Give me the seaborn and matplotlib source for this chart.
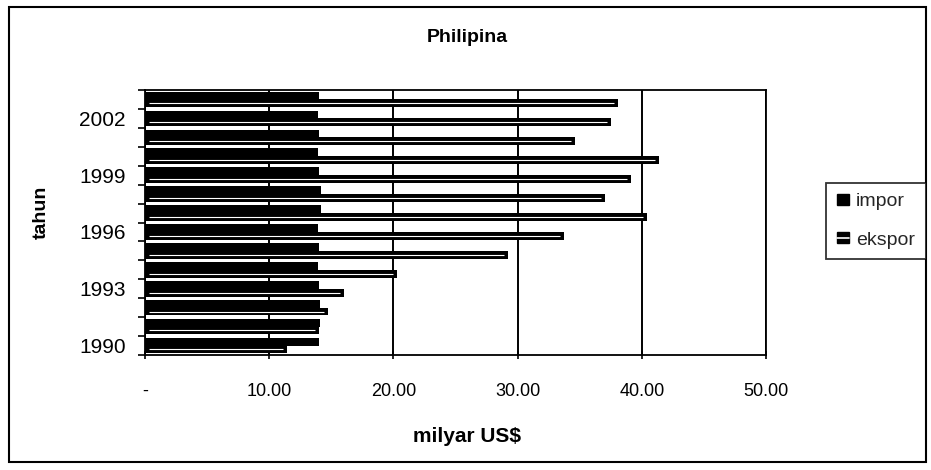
import matplotlib
matplotlib.use('Agg')
import matplotlib.pyplot as plt
import seaborn as sns
import pandas as pd
import numpy as np
from matplotlib.patches import Patch, Rectangle
from matplotlib.lines import Line2D
from matplotlib.legend_handler import HandlerTuple
from matplotlib.ticker import FixedLocator

# ---- data ----
years = list(range(1990, 2004))
impor = [14.0, 14.1, 14.1, 14.0, 13.9, 14.0, 13.9, 14.2, 14.2, 14.0, 13.9, 14.0, 13.9, 14.0]
ekspor = [11.4, 14.0, 14.7, 16.0, 20.3, 29.2, 33.7, 40.4, 37.0, 39.1, 41.4, 34.6, 37.5, 38.1]
series = ['impor', 'ekspor']
x_ticks = [0, 10, 20, 30, 40, 50]
x_ticklabels = ['-', '10.00', '20.00', '30.00', '40.00', '50.00']
y_label_years = [1990, 1993, 1996, 1999, 2002]
title = 'Philipina'
xlabel = 'milyar US$'
ylabel = 'tahun'

sns.set_theme(style='white')
plt.rcParams['font.family'] = ['Liberation Sans', 'DejaVu Sans']

df = pd.DataFrame({
    'tahun': [str(y) for y in years] * 2,
    'nilai': impor + ekspor,
    'seri': ['impor'] * len(years) + ['ekspor'] * len(years),
})
order = [str(y) for y in reversed(years)]

W, H = 931, 470
fig = plt.figure(figsize=(W / 100, H / 100), dpi=100)
ax = fig.add_axes([145 / W, 1 - 355 / H, 621 / W, 265 / H])

sns.barplot(data=df, x='nilai', y='tahun', hue='seri', order=order,
            hue_order=series, palette={'impor': 'black', 'ekspor': 'black'},
            orient='h', width=0.82, ax=ax, legend=False, saturation=1,
            errorbar=None, linewidth=0, zorder=3)

# white stripe inside ekspor bars (pattern fill)
for bar in ax.containers[1]:
    yc = bar.get_y() + bar.get_height() / 2
    x0 = bar.get_x()
    w = bar.get_width()
    ax.plot([x0 + 0.3, x0 + w - 0.3], [yc, yc], color='white', lw=0.8,
            zorder=4, solid_capstyle='butt')

ax.set_xlim(0, 50)
ax.set_ylim(len(years) - 0.5, -0.5)
ax.set_xticks(x_ticks, x_ticklabels)
ypos = [order.index(str(y)) for y in y_label_years]
ax.set_yticks(ypos, [str(y) for y in y_label_years])
ax.yaxis.set_minor_locator(FixedLocator(np.arange(-0.5, len(years), 1.0)))

ax.tick_params(axis='y', which='major', length=0, pad=14, labelsize=15,
               left=True, labelcolor='black')
ax.tick_params(axis='y', which='minor', length=5, width=1.2, color='black',
               left=True, direction='out')
ax.tick_params(axis='x', which='major', length=6, width=1.2, color='black',
               bottom=True, direction='inout', pad=17, labelsize=13,
               labelcolor='black')

ax.xaxis.grid(True, color='black', lw=1.4, zorder=1)
ax.yaxis.grid(False)
ax.set_axisbelow(True)
for s in ax.spines.values():
    s.set_visible(True)
    s.set_color('black')
    s.set_linewidth(1.3)

ax.set_xlabel(xlabel, fontsize=15, fontweight='bold', color='black')
ax.xaxis.label.set_va('center')
ax.xaxis.set_label_coords((467 - 145) / 621, (355 - 437) / 265)
ax.set_ylabel(ylabel, fontsize=14, fontweight='bold', color='black')
ax.yaxis.label.set_va('center')
ax.yaxis.set_label_coords((41 - 145) / 621, (355 - 212) / 265)

fig.text(467 / W, 1 - 38 / H, title, ha='center', va='center',
         fontsize=14, fontweight='bold', color='black')

# legend
h_imp = Patch(facecolor='black', edgecolor='black')
h_eks = (Patch(facecolor='black', edgecolor='black'),
         Line2D([], [], color='white', lw=1.2))
leg = fig.legend([h_imp, h_eks], series, loc='center left',
                 bbox_to_anchor=(826 / W, 1 - 221 / H),
                 handler_map={tuple: HandlerTuple(ndivide=1)},
                 fontsize=14, frameon=True, fancybox=False,
                 edgecolor='black', handlelength=0.65, handleheight=0.5,
                 handletextpad=0.35, labelspacing=1.1, borderpad=0.55,
                 borderaxespad=0)
leg.get_frame().set_linewidth(1.3)

# chart area border
fig.patches.append(Rectangle((9 / W, 1 - 462 / H), 917 / W, 455 / H,
                             transform=fig.transFigure, fill=False,
                             edgecolor='black', lw=1.5))

fig.savefig('out.png', dpi=100, facecolor='white')
